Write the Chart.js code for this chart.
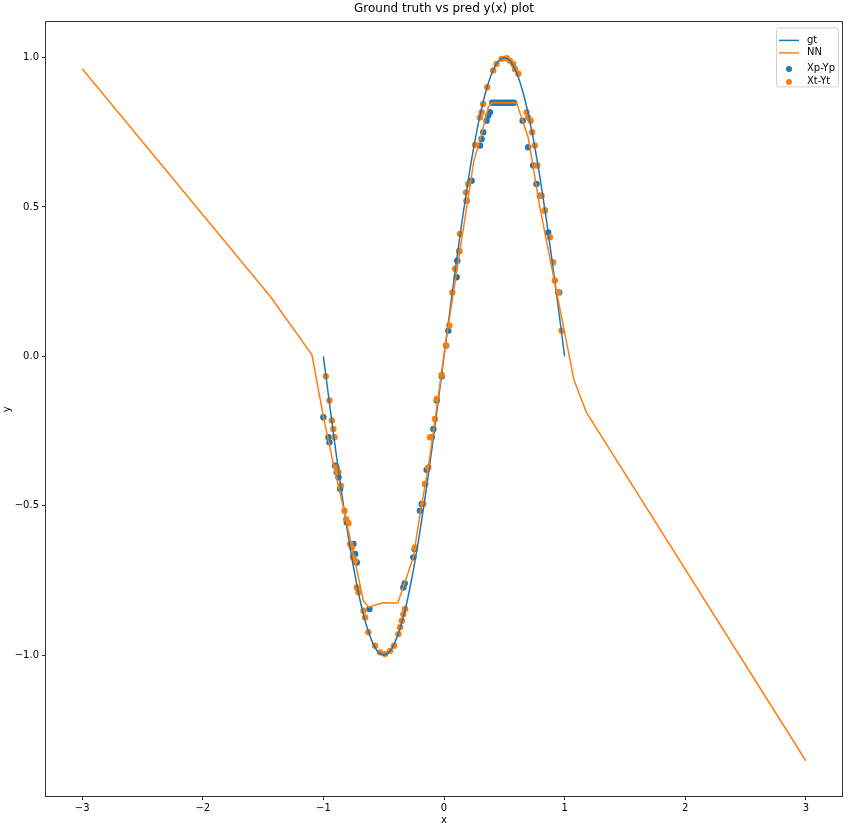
<!DOCTYPE html>
<html>
<head>
<meta charset="utf-8">
<script src="https://cdn.jsdelivr.net/npm/chart.js@4"></script>
<style>
  body { margin: 0; background: #fff; }
  #box { width: 853px; height: 828px; }
</style>
</head>
<body>
<div id="box"><canvas id="grafico"></canvas></div>
<script>
// ground truth curve
const gtX = [-1.00, -0.95, -0.90, -0.85, -0.80, -0.75, -0.70, -0.65, -0.60, -0.55, -0.50,
  -0.45, -0.40, -0.35, -0.30, -0.25, -0.20, -0.15, -0.10, -0.05, 0.00,
  0.05, 0.10, 0.15, 0.20, 0.25, 0.30, 0.35, 0.40, 0.45, 0.50,
  0.55, 0.60, 0.65, 0.70, 0.75, 0.80, 0.85, 0.90, 0.95, 1.00];
const gtY = [0, -0.156, -0.309, -0.454, -0.588, -0.707, -0.809, -0.891, -0.951, -0.988, -1.000,
  -0.988, -0.951, -0.891, -0.809, -0.707, -0.588, -0.454, -0.309, -0.156, 0,
  0.156, 0.309, 0.454, 0.588, 0.707, 0.809, 0.891, 0.951, 0.988, 1.000,
  0.988, 0.951, 0.891, 0.809, 0.707, 0.588, 0.454, 0.309, 0.156, 0];

// network output
const nnX = [-3, -1.435, -1.095, -0.999, -0.917, -0.834, -0.751, -0.668, -0.627, -0.505, -0.383,
  -0.254, -0.199, -0.130, -0.060, 0.008, 0.248, 0.298, 0.367, 0.395, 0.602, 0.698, 0.795,
  1.079, 1.181, 3];
const nnY = [0.963, 0.198, 0.005, -0.204, -0.360, -0.506, -0.662, -0.818, -0.840, -0.825, -0.826,
  -0.673, -0.528, -0.372, -0.171, 0.030, 0.655, 0.723, 0.834, 0.849, 0.849, 0.733, 0.499,
  -0.081, -0.188, -1.354];

// Xp-Yp points
const xpX = [-1.000, -0.958, -0.950, -0.903, -0.889, -0.875, -0.861, -0.806, -0.751, -0.737, -0.723,
  -0.618, -0.337, -0.325, -0.254, -0.244, -0.199, -0.185, -0.157, -0.144, -0.102, -0.088,
  -0.060, -0.019, 0.017, 0.036, 0.105, 0.110, 0.127, 0.188, 0.229, 0.298, 0.312, 0.325,
  0.353, 0.367, 0.381, 0.40, 0.42, 0.44, 0.46, 0.48, 0.50, 0.52, 0.54, 0.56, 0.58,
  0.652, 0.698, 0.739, 0.767, 0.795, 0.836, 0.864, 0.955];
const xpY = [-0.204, -0.271, -0.288, -0.366, -0.388, -0.405, -0.444, -0.556, -0.628, -0.662, -0.690,
  -0.846, -0.774, -0.760, -0.673, -0.645, -0.517, -0.494, -0.427, -0.380, -0.271, -0.243,
  -0.148, -0.067, 0.036, 0.086, 0.265, 0.320, 0.352, 0.521, 0.588, 0.706, 0.728, 0.750,
  0.789, 0.806, 0.817, 0.849, 0.849, 0.849, 0.849, 0.849, 0.849, 0.849, 0.849, 0.849, 0.849,
  0.789, 0.700, 0.639, 0.577, 0.538, 0.488, 0.415, 0.214];

// Xt-Yt points
const xtX = [-0.980, -0.950, -0.930, -0.917, -0.908, -0.889, -0.875, -0.856, -0.825, -0.811, -0.792,
  -0.778, -0.764, -0.756, -0.737, -0.723, -0.709, -0.668, -0.654, -0.627, -0.571, -0.530,
  -0.489, -0.447, -0.414, -0.378, -0.364, -0.350, -0.337, -0.323, -0.240, -0.171, -0.157,
  -0.130, -0.116, -0.075, -0.060, -0.019, 0.017, 0.044, 0.069, 0.091, 0.127, 0.132, 0.188,
  0.182, 0.201, 0.257, 0.298, 0.312, 0.325, 0.359, 0.408, 0.436, 0.478, 0.520, 0.546,
  0.574, 0.588, 0.616, 0.685, 0.698, 0.718, 0.731, 0.753, 0.773, 0.809, 0.836, 0.878,
  0.905, 0.919, 0.946, 0.975];
const xtY = [-0.067, -0.148, -0.215, -0.243, -0.271, -0.372, -0.388, -0.433, -0.517, -0.545, -0.559,
  -0.628, -0.640, -0.673, -0.684, -0.774, -0.790, -0.852, -0.874, -0.924, -0.969, -0.991,
  -0.997, -0.986, -0.969, -0.930, -0.907, -0.885, -0.863, -0.846, -0.640, -0.494, -0.427,
  -0.372, -0.271, -0.210, -0.143, -0.062, 0.036, 0.103, 0.214, 0.293, 0.352, 0.410, 0.521,
  0.549, 0.577, 0.708, 0.800, 0.817, 0.845, 0.901, 0.957, 0.979, 0.996, 0.998, 0.990,
  0.979, 0.962, 0.946, 0.817, 0.800, 0.789, 0.750, 0.706, 0.639, 0.538, 0.488, 0.399,
  0.315, 0.254, 0.214, 0.086];

const xTicks = [-3, -2, -1, 0, 1, 2, 3];
const yTicks = [-1.0, -0.5, 0.0, 0.5, 1.0];

const azul = "#1f77b4";
const laranja = "#ff7f0e";
const fonte = "'DejaVu Sans', sans-serif";

function pontos(xs, ys) {
  return xs.map((x, i) => ({ x: x, y: ys[i] }));
}

function menos(v) {
  return String(v).replace("-", "\u2212");
}

// box around the plot area
const moldura = {
  id: "moldura",
  afterDatasetsDraw(chart) {
    const a = chart.chartArea;
    const ctx = chart.ctx;
    ctx.save();
    ctx.strokeStyle = "#333";
    ctx.lineWidth = 1;
    ctx.strokeRect(Math.round(a.left) - 0.5, Math.round(a.top) - 0.5,
      Math.round(a.right - a.left) + 1, Math.round(a.bottom - a.top) + 1);
    ctx.restore();
  }
};

// matplotlib-like legend in the top right corner
const legenda = {
  id: "legenda",
  afterDraw(chart) {
    const ctx = chart.ctx;
    const a = chart.chartArea;
    const x0 = a.right - 66, y0 = a.top + 5, w = 62, h = 59;
    ctx.save();
    ctx.fillStyle = "rgba(255,255,255,0.8)";
    ctx.strokeStyle = "#d0d0d0";
    ctx.lineWidth = 1;
    ctx.beginPath();
    ctx.roundRect(x0 + 0.5, y0 + 0.5, w, h, 3);
    ctx.fill();
    ctx.stroke();
    const linhas = [13, 25.5, 41.5, 54.5];
    ctx.font = "10px " + fonte;
    ctx.textBaseline = "middle";
    chart.data.datasets.forEach((ds, i) => {
      const y = y0 + linhas[i];
      if (ds.showLine) {
        ctx.strokeStyle = ds.borderColor;
        ctx.lineWidth = 1.5;
        ctx.beginPath();
        ctx.moveTo(x0 + 3, y);
        ctx.lineTo(x0 + 23, y);
        ctx.stroke();
      } else {
        ctx.fillStyle = ds.backgroundColor;
        ctx.beginPath();
        ctx.arc(x0 + 13, y, 3, 0, Math.PI * 2);
        ctx.fill();
      }
      ctx.fillStyle = "#000";
      ctx.fillText(ds.label, x0 + 31, y);
    });
    ctx.restore();
  }
};

const ctx = document.getElementById("grafico");

new Chart(ctx, {
  type: "scatter",
  data: {
    datasets: [
      {
        label: "gt",
        data: pontos(gtX, gtY),
        showLine: true,
        borderColor: azul,
        backgroundColor: azul,
        borderWidth: 1.5,
        pointRadius: 0,
        cubicInterpolationMode: "monotone",
        order: 1
      },
      {
        label: "NN",
        data: pontos(nnX, nnY),
        showLine: true,
        borderColor: laranja,
        backgroundColor: laranja,
        borderWidth: 1.5,
        pointRadius: 0,
        order: 0
      },
      {
        label: "Xp-Yp",
        data: pontos(xpX, xpY),
        backgroundColor: azul,
        borderWidth: 0,
        pointRadius: 3.2,
        order: 3
      },
      {
        label: "Xt-Yt",
        data: pontos(xtX, xtY),
        backgroundColor: laranja,
        borderWidth: 0,
        pointRadius: 3.2,
        order: 2
      }
    ]
  },
  options: {
    responsive: true,
    maintainAspectRatio: false,
    animation: false,
    layout: { padding: { top: 0, right: 11, bottom: 0, left: 0 } },
    plugins: {
      legend: { display: false },
      tooltip: { enabled: false },
      title: {
        display: true,
        fullSize: false,
        text: "Ground truth vs pred y(x) plot",
        color: "#000",
        font: { family: fonte, size: 12, weight: "normal" },
        padding: { top: 2, bottom: 6 }
      }
    },
    scales: {
      x: {
        type: "linear",
        min: -3.3,
        max: 3.3,
        afterBuildTicks: s => { s.ticks = xTicks.map(v => ({ value: v })); },
        afterFit: s => { s.height = 32; },
        border: { display: false },
        grid: { drawOnChartArea: false, drawTicks: true, tickLength: 4, color: "#333" },
        ticks: {
          color: "#000",
          padding: 2,
          maxRotation: 0,
          font: { family: fonte, size: 10 },
          callback: v => menos(v)
        },
        title: {
          display: true,
          text: "x",
          color: "#000",
          font: { family: fonte, size: 10 },
          padding: { top: 0, bottom: 2 }
        }
      },
      y: {
        type: "linear",
        min: -1.472,
        max: 1.118,
        afterBuildTicks: s => { s.ticks = yTicks.map(v => ({ value: v })); },
        afterFit: s => { s.width = 46; },
        border: { display: false },
        grid: { drawOnChartArea: false, drawTicks: true, tickLength: 4, color: "#333" },
        ticks: {
          color: "#000",
          padding: 3,
          font: { family: fonte, size: 10 },
          callback: v => menos(v.toFixed(1))
        },
        title: {
          display: true,
          text: "y",
          color: "#000",
          font: { family: fonte, size: 10 },
          padding: { top: 1, bottom: 0 }
        }
      }
    }
  },
  plugins: [moldura, legenda]
});
</script>
</body>
</html>
